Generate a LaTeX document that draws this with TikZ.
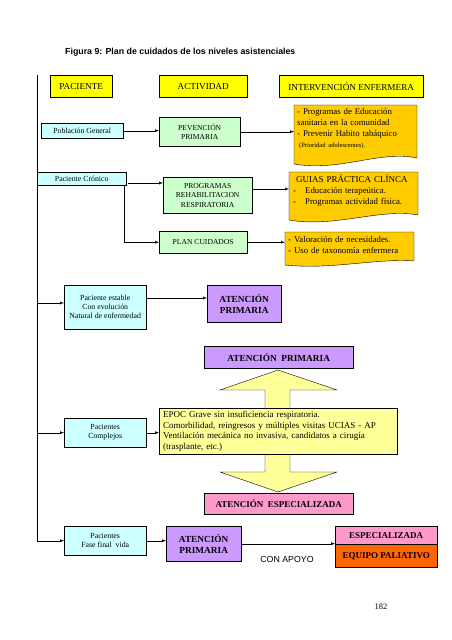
\documentclass[tikz,border=0pt]{standalone}
\usepackage{fontspec}
\setmainfont{Liberation Serif}
\newfontfamily\arialfont{Liberation Sans}
\usepackage{xcolor}
\usetikzlibrary{backgrounds}

\definecolor{amarillo}{HTML}{FFFF00}
\definecolor{amarclaro}{HTML}{FFFF99}
\definecolor{celeste}{HTML}{CCFFFF}
\definecolor{verdeclaro}{HTML}{CCFFCC}
\definecolor{naranjanota}{HTML}{FFCC00}
\definecolor{lila}{HTML}{CC99FF}
\definecolor{rosa}{HTML}{FF99CC}
\definecolor{naranja}{HTML}{FF6600}

\tikzset{
  cabecera/.style={draw, fill=amarillo, anchor=north west, inner sep=0pt,
    font=\fontsize{9.2}{11}\selectfont},
  paciente/.style={draw, fill=celeste, anchor=north west, inner sep=0pt,
    align=center, font=\fontsize{7.8}{9}\selectfont},
  actividad/.style={draw, fill=verdeclaro, anchor=north west, inner sep=0pt,
    align=center, font=\fontsize{7.6}{9.5}\selectfont},
  nota/.style={anchor=north west, inner sep=3pt, align=left,
    font=\fontsize{8.8}{11}\selectfont},
  atencion/.style={draw, fill=lila, anchor=north west, inner sep=0pt,
    align=center, font=\fontsize{9.3}{11}\selectfont\bfseries},
  especial/.style={draw, fill=rosa, anchor=north west, inner sep=0pt,
    align=center, font=\fontsize{9}{11}\selectfont\bfseries},
}

\begin{document}
\begin{tikzpicture}[x=1pt, y=-1pt, >=latex]
	\useasboundingbox (0,0) rectangle (452,640);
	% Titulo
	\node[anchor=west, inner sep=0pt, font=\arialfont\fontsize{8.8}{10}\selectfont\bfseries] (titulo) at (65,52)
		{Figura 9: Plan de cuidados de los niveles asistenciales};
	% Cabeceras
	\node[cabecera, minimum width=62pt, minimum height=22pt] (hpac) at (50,75) {PACIENTE};
	\node[cabecera, minimum width=88pt, minimum height=22pt] (hact) at (159,75) {ACTIVIDAD};
	\node[cabecera, minimum width=144pt, minimum height=22pt] (hint) at (279,75) {INTERVENCIÓN ENFERMERA};
	% Tronco izquierdo
	\coordinate (tronco) at (37,75);
	% Poblacion general
	\node[paciente, minimum width=82pt, minimum height=15pt] (pobl) at (41,123) {Población General};
	\node[actividad, minimum width=81pt, minimum height=29pt] (prev) at (159,117) {PEVENCIÓN\\PRIMARIA};
	\node[nota, text width=117pt] (nota1) at (294,105)
		{- Programas de Educación\\sanitaria en la comunidad\\- Prevenir Habito tabáquico\\
		\hspace*{2pt}{\fontsize{6.5}{8}\selectfont (Prioridad adolescentes).}};
	% Paciente cronico
	\node[paciente, minimum width=89pt, minimum height=13pt] (cron) at (37,172) {Paciente Crónico};
	\node[actividad, minimum width=89pt, minimum height=36pt] (prog) at (163,177)
		{PROGRAMAS\\REHABILITACION\\RESPIRATORIA};
	\node[nota, text width=125pt, inner sep=2pt] (nota2) at (289,173)
		{\hspace*{5pt}{\fontsize{9}{11}\selectfont GUIAS PRÁCTICA CLÍNCA}\\
		\hspace*{2pt}-\hspace{9pt}Educación terapeútica.\\
		\hspace*{2pt}-\hspace{9pt}Programas actividad física.};
	\node[actividad, minimum width=88pt, minimum height=22pt] (plan) at (159,231) {PLAN CUIDADOS};
	\node[nota, text width=123pt] (nota3) at (285,233)
		{- Valoración de necesidades.\\- Uso de taxonomía enfermera};
	% Paciente estable
	\node[paciente, minimum width=82pt, minimum height=44pt] (estable) at (64,285)
		{Paciente estable\\Con evolución\\Natural de enfermedad};
	\node[atencion, minimum width=74pt, minimum height=37pt] (aprim1) at (207,285) {ATENCIÓN\\PRIMARIA};
	% Flecha doble y pacientes complejos
	\node[atencion, minimum width=149pt, minimum height=22pt] (aprim2) at (204,346) {ATENCIÓN\ \ PRIMARIA};
	\fill[amarclaro, draw=black] (278,370) -- (337,390) -- (290,390) -- (290,472) -- (337,472)
		-- (278,492) -- (220,472) -- (265,472) -- (265,390) -- (220,390) -- cycle;
	\node[paciente, minimum width=82pt, minimum height=29pt] (compl) at (64,418) {Pacientes\\Complejos};
	\node[draw, fill=amarclaro, anchor=north west, inner sep=0pt, minimum width=238pt, minimum height=46pt,
		text width=230pt, align=left, font=\fontsize{9}{10.5}\selectfont] (epoc) at (159,408)
		{EPOC Grave sin insuficiencia respiratoria.\\
		Comorbilidad, reingresos y múltiples visitas UCIAS - AP\\
		Ventilación mecánica no invasiva, candidatos a cirugía\\
		(trasplante, etc.)};
	\node[especial, minimum width=149pt, minimum height=21pt] (aesp) at (204,493) {ATENCIÓN\ \ ESPECIALIZADA};
	% Fase final
	\node[paciente, minimum width=82pt, minimum height=29pt] (fase) at (64,526) {Pacientes\\Fase final\ \ vida};
	\node[atencion, minimum width=75pt, minimum height=35pt] (aprim3) at (166,526) {ATENCIÓN\\PRIMARIA};
	\node[especial, minimum width=102pt, minimum height=18pt] (esp) at (335,526) {ESPECIALIZADA};
	\node[draw, fill=naranja, anchor=north west, inner sep=0pt, minimum width=102pt, minimum height=23pt,
		font=\fontsize{9}{11}\selectfont\bfseries] (equipo) at (esp.south west) {EQUIPO PALIATIVO};
	\node[font=\arialfont\fontsize{8.8}{10}\selectfont, inner sep=0pt] (apoyo) at (287,559) {CON APOYO};
	\node[font=\fontsize{8.5}{10}\selectfont, inner sep=0pt] (pagina) at (381,607) {182};
	% Notas (forma de documento)
	\begin{scope}[on background layer]
		\fill[naranjanota, draw=black] (294,105) -- (417,105) -- (417,158)
			.. controls (380,150) and (340,172) .. (294,164) -- cycle;
		\fill[naranjanota, draw=black] (289,172) -- (418,172) -- (418,215)
			.. controls (380,208) and (335,228) .. (289,220) -- cycle;
		\fill[naranjanota, draw=black] (285,232) -- (414,232) -- (414,261)
			.. controls (378,258) and (330,270) .. (285,265) -- cycle;
	\end{scope}
	% Conectores
	\draw (tronco) -- (tronco |- cron.north);
	\draw[->] (tronco |- cron.south) |- (fase.west);
	\draw[->] (pobl.east) -- (pobl.east -| prev.west);
	\draw[->] (prev.east) -- (prev.east -| nota1.west);
	\coordinate (c1) at (128,183);
	\draw[->] (c1) -- (c1 -| prog.west);
	\draw[->] ([xshift=-2pt]cron.south east) |- (plan.west);
	\coordinate (c2) at (252,189);
	\draw[->] (c2) -- (c2 -| nota2.west);
	\draw[->] (plan.east) -- (plan.east -| nota3.west);
	\coordinate (c3) at (37,303);
	\draw[->] (c3) -- (c3 -| estable.west);
	\coordinate (c4) at (146,298);
	\draw[->] (c4) -- (c4 -| aprim1.west);
	\draw[->] (tronco |- compl.west) -- (compl.west);
	\draw[->] (compl.east) -- (compl.east -| epoc.west);
	\draw[->] (fase.east) -- (fase.east -| aprim3.west);
	\draw[->] (aprim3.east) -- (aprim3.east -| esp.south west);
\end{tikzpicture}
\end{document}
